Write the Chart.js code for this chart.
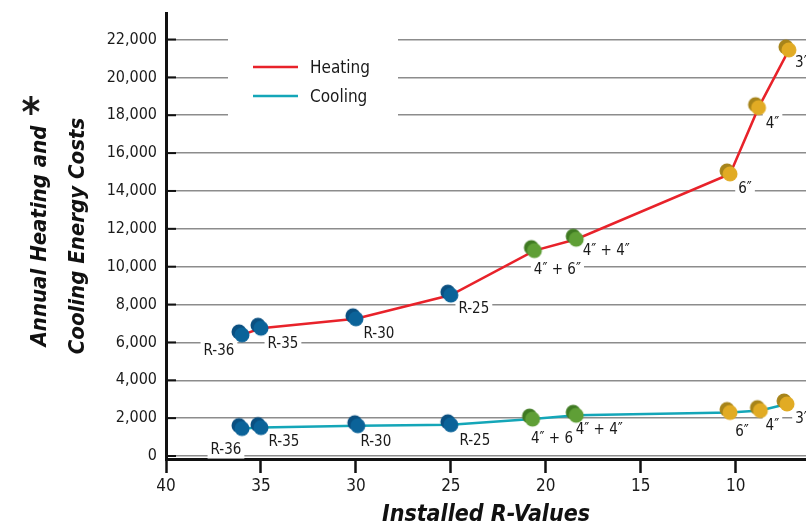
<!DOCTYPE html>
<html>
<head>
<meta charset="utf-8">
<script src="https://cdn.jsdelivr.net/npm/chart.js@4.4.1/dist/chart.umd.min.js"></script>
<style>
  html, body { margin: 0; padding: 0; background: #fff; }
  #wrap { width: 806px; height: 529px; }
</style>
</head>
<body>
<div id="wrap"><canvas id="costChart" width="806" height="529"></canvas></div>
<script>
// data
const insulation = ["R-36", "R-35", "R-30", "R-25", "4\u2033 + 6\u2033", "4\u2033 + 4\u2033", "6\u2033", "4\u2033", "3\u2033"];
const insulationGroup = ["r", "r", "r", "r", "mix", "mix", "in", "in", "in"];
const heatingR = [36, 35, 30, 25, 20.6, 18.4, 10.3, 8.8, 7.2];
const heatingCost = [6400, 6750, 7250, 8500, 10850, 11450, 14900, 18400, 21450];
const coolingR = [36, 35, 29.9, 25, 20.7, 18.4, 10.3, 8.7, 7.3];
const coolingCost = [1450, 1500, 1600, 1650, 1950, 2150, 2300, 2400, 2750];
const yTicks = [0, 2000, 4000, 6000, 8000, 10000, 12000, 14000, 16000, 18000, 20000, 22000];
const xTicks = [40, 35, 30, 25, 20, 15, 10];

const FONT = "'DejaVu Sans Condensed', 'Liberation Sans Narrow', sans-serif";

// label offsets from the point (px)
const heatLabelOff = [[-23, 15], [22, 15], [23, 14], [23, 13], [23, 19], [30, 11], [15, 14], [14, 15], [13, 12]];
const coolLabelOff = [[-16, 21], [23, 13], [18, 15], [24, 15], [22, 19], [23, 14], [12, 19], [12, 15], [15, 14]];

const groupColors = {
  r: ["#0a4f80", "#0b6399"],
  mix: ["#3f7a22", "#5f9f36"],
  in: ["#a7841a", "#e1ab24"]
};

// double disc marker (shadow disc behind, front disc on the point)
function makeMarker(back, front) {
  const c = document.createElement("canvas");
  c.width = 28; c.height = 28;
  const g = c.getContext("2d");
  g.fillStyle = back;
  g.beginPath(); g.arc(11, 11, 7.5, 0, Math.PI * 2); g.fill();
  g.fillStyle = front;
  g.beginPath(); g.arc(14, 14, 7.5, 0, Math.PI * 2); g.fill();
  return c;
}
const markers = {};
Object.keys(groupColors).forEach(k => { markers[k] = makeMarker(groupColors[k][0], groupColors[k][1]); });
const pointStyles = insulationGroup.map(g => markers[g]);

const labelPlugin = {
  id: "pointLabels",
  beforeDatasetsDraw(chart) {
    const ctx = chart.ctx;
    const xs = chart.scales.x, ys = chart.scales.y;
    const left = chart.chartArea.left;
    ctx.save();

    // short dark stubs where each gridline meets the axis
    ctx.strokeStyle = "#111";
    ctx.lineWidth = 2;
    yTicks.forEach(v => {
      const y = ys.getPixelForValue(v);
      ctx.beginPath(); ctx.moveTo(left, y); ctx.lineTo(left + 10, y); ctx.stroke();
    });

    ctx.font = "15px " + FONT;
    ctx.textAlign = "center";
    ctx.textBaseline = "middle";
    const drawSet = (rs, vals, offs) => {
      rs.forEach((r, i) => {
        const px = xs.getPixelForValue(r) + offs[i][0];
        const py = ys.getPixelForValue(vals[i]) + offs[i][1];
        const w = ctx.measureText(insulation[i]).width;
        ctx.fillStyle = "#fff";
        ctx.fillRect(px - w / 2 - 3, py - 9, w + 6, 18);
        ctx.fillStyle = "#1a1a1a";
        ctx.fillText(insulation[i], px, py + 1);
      });
    };
    drawSet(heatingR, heatingCost, heatLabelOff);
    drawSet(coolingR, coolingCost, coolLabelOff);

    // legend
    ctx.fillStyle = "#fff";
    ctx.fillRect(228, 32, 170, 90);
    ctx.lineWidth = 2.5;
    ctx.strokeStyle = "#e8222a";
    ctx.beginPath(); ctx.moveTo(253, 67); ctx.lineTo(298, 67); ctx.stroke();
    ctx.strokeStyle = "#14a6b8";
    ctx.beginPath(); ctx.moveTo(253, 96); ctx.lineTo(298, 96); ctx.stroke();
    ctx.fillStyle = "#1a1a1a";
    ctx.textAlign = "left";
    ctx.font = "17px " + FONT;
    ctx.fillText("Heating", 310, 69);
    ctx.fillText("Cooling", 310, 98);

    // asterisk on the y title
    ctx.font = "bold 40px " + FONT;
    ctx.textAlign = "center";
    ctx.fillText("*", 31, 116);
    ctx.restore();
  }
};

const ctx = document.getElementById("costChart").getContext("2d");
new Chart(ctx, {
  type: "scatter",
  data: {
    datasets: [
      {
        label: "Heating",
        data: heatingR.map((r, i) => ({ x: r, y: heatingCost[i] })),
        showLine: true,
        borderColor: "#e8222a",
        borderWidth: 2.5,
        pointStyle: pointStyles,
        pointRadius: 8,
        pointHoverRadius: 8
      },
      {
        label: "Cooling",
        data: coolingR.map((r, i) => ({ x: r, y: coolingCost[i] })),
        showLine: true,
        borderColor: "#14a6b8",
        borderWidth: 2.5,
        pointStyle: pointStyles,
        pointRadius: 8,
        pointHoverRadius: 8
      }
    ]
  },
  options: {
    responsive: false,
    animation: false,
    devicePixelRatio: 1,
    layout: { autoPadding: false, padding: { top: 13, right: 0, left: 0, bottom: 0 } },
    plugins: {
      legend: { display: false },
      tooltip: { enabled: false }
    },
    scales: {
      x: {
        type: "linear",
        reverse: true,
        min: 6.3,
        max: 40,
        afterBuildTicks: s => { s.ticks = xTicks.map(v => ({ value: v })); },
        afterFit: s => { s.height = 70; s.paddingLeft = 0; s.paddingRight = 0; },
        grid: { drawOnChartArea: false, drawTicks: true, tickLength: 14, tickWidth: 2.5, tickColor: "#111" },
        border: { display: true, color: "#111", width: 3 },
        ticks: { color: "#1a1a1a", padding: 3, font: { family: FONT, size: 17 } },
        title: {
          display: true,
          text: "Installed R-Values",
          color: "#111",
          padding: { top: 0, bottom: 0 },
          font: { family: FONT, size: 23, weight: "bold", style: "italic", lineHeight: 1.2 }
        }
      },
      y: {
        min: -158,
        max: 23400,
        afterBuildTicks: s => { s.ticks = yTicks.map(v => ({ value: v })); },
        afterFit: s => { s.width = 166; s.paddingTop = 0; s.paddingBottom = 0; },
        grid: { color: "#8c8c8c", lineWidth: 1.5, drawTicks: false },
        border: { display: true, color: "#111", width: 3 },
        ticks: {
          color: "#1a1a1a",
          padding: 9,
          font: { family: FONT, size: 16 },
          callback: v => v.toLocaleString("en-US")
        },
        title: {
          display: true,
          text: ["Annual Heating and", "Cooling Energy Costs"],
          color: "#111",
          padding: { top: 22, bottom: 0 },
          font: { family: FONT, size: 22, weight: "bold", style: "italic", lineHeight: 1.7 }
        }
      }
    }
  },
  plugins: [labelPlugin]
});
</script>
</body>
</html>
